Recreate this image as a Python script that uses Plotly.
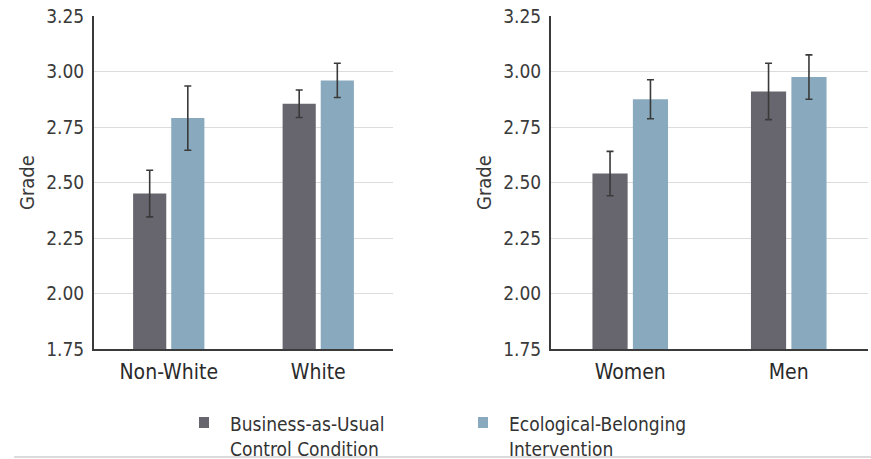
import plotly.graph_objects as go

# Mean course grade by condition, split by race and by gender
race_cats = ["Non-White", "White"]
race_control = [2.45, 2.855]
race_control_err = [0.105, 0.062]
race_interv = [2.79, 2.96]
race_interv_err = [0.145, 0.077]

gender_cats = ["Women", "Men"]
gender_control = [2.54, 2.91]
gender_control_err = [0.10, 0.127]
gender_interv = [2.875, 2.975]
gender_interv_err = [0.088, 0.10]

series_names = ["Business-as-Usual<br>Control Condition",
                "Ecological-Belonging<br>Intervention"]
y_ticks = [1.75, 2.00, 2.25, 2.50, 2.75, 3.00, 3.25]
y_title = "Grade"

DARK = "#67666e"
LIGHT = "#89aabe"
AXIS = "#3a3a3a"
FONT = "Liberation Sans Narrow, Arial Narrow, DejaVu Sans Condensed, sans-serif"
series_colors = [DARK, LIGHT]

W, H = 871, 459


def err(vals):
    return dict(type="data", array=vals, visible=True, color=AXIS,
                thickness=1.6, width=3.5)


fig = go.Figure()
panels = [
    ("x", "y", race_cats, race_control, race_control_err, race_interv, race_interv_err),
    ("x2", "y2", gender_cats, gender_control, gender_control_err, gender_interv, gender_interv_err),
]
for xa, ya, cats, c_vals, c_err, i_vals, i_err in panels:
    fig.add_trace(go.Bar(x=cats, y=c_vals, error_y=err(c_err), name=series_names[0],
                         marker=dict(color=DARK, line=dict(width=0)),
                         xaxis=xa, yaxis=ya, showlegend=False))
    fig.add_trace(go.Bar(x=cats, y=i_vals, error_y=err(i_err), name=series_names[1],
                         marker=dict(color=LIGHT, line=dict(width=0)),
                         xaxis=xa, yaxis=ya, showlegend=False))

y_bottom = 1 - 349 / H
y_top = 1 - 16 / H

xaxis_style = dict(showline=True, linecolor=AXIS, linewidth=2, showgrid=False,
                   ticks="", tickfont=dict(family=FONT, size=21, color="#2a2a2a"),
                   ticklabelstandoff=3, range=[-0.5, 1.5], fixedrange=True,
                   automargin=False)
yaxis_style = dict(range=[1.75, 3.25], tickvals=y_ticks, tickformat=".2f",
                   showline=True, linecolor=AXIS, linewidth=2,
                   showgrid=True, gridcolor="#dcdcdc", gridwidth=1.2,
                   zeroline=False, ticks="", ticklabelstandoff=4,
                   tickfont=dict(family=FONT, size=19, color="#3a3a3a"),
                   domain=[y_bottom, y_top], fixedrange=True, automargin=False)

# rotated axis titles placed beside each panel's tick labels
annotations = [
    dict(text=y_title, x=x_px / W, y=1 - 183 / H, xref="paper", yref="paper",
         textangle=-90, showarrow=False, xanchor="center", yanchor="middle",
         font=dict(family=FONT, size=20, color="#3a3a3a"))
    for x_px in (27, 484)
]

# shared key below both panels: colour swatch plus two-line label
shapes = []
key_left = [199, 478]
for left, name, color in zip(key_left, series_names, series_colors):
    shapes.append(dict(type="rect", xref="paper", yref="paper",
                       x0=left / W, x1=(left + 10) / W,
                       y0=1 - 428 / H, y1=1 - 417 / H,
                       fillcolor=color, line=dict(width=0)))
    annotations.append(dict(text=name, x=(left + 29) / W, y=1 - 436 / H,
                            xref="paper", yref="paper", showarrow=False,
                            xanchor="left", yanchor="middle", align="left",
                            font=dict(family=FONT, size=19, color="#333333")))

shapes.append(dict(type="line", xref="paper", yref="paper", x0=14 / W, x1=1,
                   y0=1 - 457 / H, y1=1 - 457 / H, line=dict(color="#cfcfcf", width=1.5)))

fig.update_layout(
    width=W, height=H,
    margin=dict(l=0, r=0, t=0, b=0, autoexpand=False),
    paper_bgcolor="white", plot_bgcolor="white",
    barmode="group", bargap=0.49, bargroupgap=0.13,
    xaxis=dict(domain=[94 / W, 393 / W], anchor="y", **xaxis_style),
    yaxis=dict(anchor="x", **yaxis_style),
    xaxis2=dict(domain=[551 / W, 868 / W], anchor="y2", **xaxis_style),
    yaxis2=dict(anchor="x2", **yaxis_style),
    annotations=annotations,
    shapes=shapes,
    showlegend=False,
)

fig.write_html("out.html")
